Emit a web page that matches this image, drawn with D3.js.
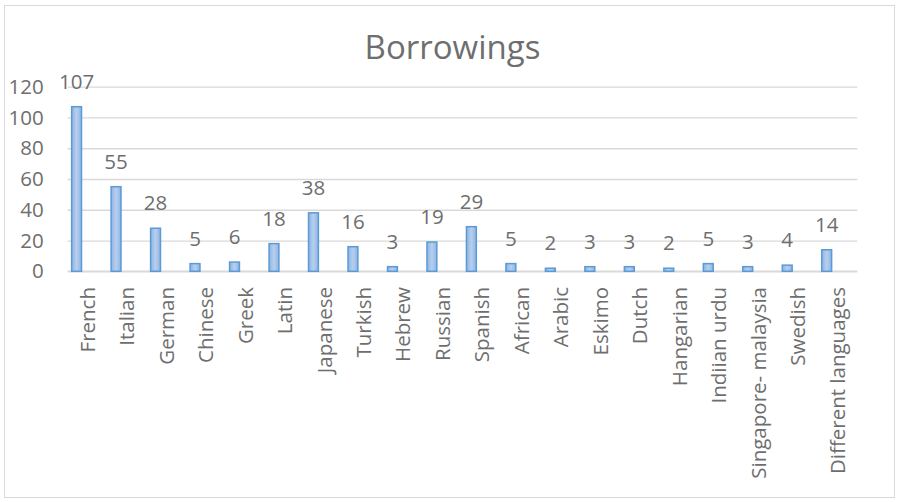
<!DOCTYPE html>
<html>
<head>
<meta charset="utf-8">
<script src="https://cdn.jsdelivr.net/npm/d3@7"></script>
<style>
  html, body { margin: 0; padding: 0; background: #fff; }
  svg { display: block; }
  text { font-family: "Open Sans", "Liberation Sans", sans-serif; fill: #6e6e6e; }
</style>
</head>
<body>
<svg id="chart" width="900" height="502"></svg>
<script>
// Data
const categories = ['French', 'Italian', 'German', 'Chinese', 'Greek', 'Latin', 'Japanese',
  'Turkish', 'Hebrew', 'Russian', 'Spanish', 'African', 'Arabic', 'Eskimo', 'Dutch',
  'Hangarian', 'Indiian urdu', 'Singapore- malaysia', 'Swedish', 'Different languages'];
const borrowings = [107, 55, 28, 5, 6, 18, 38, 16, 3, 19, 29, 5, 2, 3, 3, 2, 5, 3, 4, 14];
const yTicks = [0, 20, 40, 60, 80, 100, 120];
const chartTitle = 'Borrowings';

const svg = d3.select('#chart');
const labelSize = 20.5;
const textColor = '#6e6e6e';

// Outer chart border
svg.append('rect')
  .attr('x', 4.5).attr('y', 5.5)
  .attr('width', 890).attr('height', 492)
  .attr('fill', '#fff')
  .attr('stroke', '#d9d9d9')
  .attr('stroke-width', 1);

// Gradient for bars
const defs = svg.append('defs');
const grad = defs.append('linearGradient')
  .attr('id', 'barGrad')
  .attr('x1', '0').attr('x2', '1').attr('y1', '0').attr('y2', '0');
grad.append('stop').attr('offset', '0%').attr('stop-color', '#8fb4e3');
grad.append('stop').attr('offset', '50%').attr('stop-color', '#b7cfee');
grad.append('stop').attr('offset', '100%').attr('stop-color', '#8fb4e3');

// Scales
const xScale = d3.scaleBand()
  .domain(categories)
  .range([67.7, 857.3])
  .paddingInner(0)
  .paddingOuter(0);

const yScale = d3.scaleLinear()
  .domain([0, 120])
  .range([271.3, 86.7]);

// Gridlines
const yAxis = d3.axisLeft(yScale)
  .tickValues(yTicks)
  .tickSize(-(857.3 - 67.7))
  .tickPadding(24);

const yAxisG = svg.append('g')
  .attr('transform', 'translate(67.7, 0)')
  .call(yAxis);
yAxisG.select('.domain').remove();
yAxisG.selectAll('.tick line')
  .attr('stroke', '#d9d9d9')
  .attr('stroke-width', 1.3);
yAxisG.selectAll('.tick text')
  .attr('font-size', labelSize)
  .attr('fill', textColor)
  .style('font-family', '"Open Sans", sans-serif');

// Baseline
svg.append('line')
  .attr('x1', 67.7).attr('x2', 857.3)
  .attr('y1', yScale(0)).attr('y2', yScale(0))
  .attr('stroke', '#d9d9d9')
  .attr('stroke-width', 1.5);

// Bars (Excel places this series left of the category centre)
const barOffset = 0.1;
const barWidth = 0.25;
svg.append('g')
  .selectAll('rect')
  .data(borrowings)
  .enter()
  .append('rect')
  .attr('x', (d, i) => xScale(categories[i]) + xScale.bandwidth() * barOffset)
  .attr('y', d => yScale(d))
  .attr('width', xScale.bandwidth() * barWidth)
  .attr('height', d => yScale(0) - yScale(d))
  .attr('fill', 'url(#barGrad)')
  .attr('stroke', '#5b9bd5')
  .attr('stroke-width', 1.5);

// Data labels
svg.append('g')
  .selectAll('text')
  .data(borrowings)
  .enter()
  .append('text')
  .attr('x', (d, i) => xScale(categories[i]) + xScale.bandwidth() * (barOffset + barWidth / 2))
  .attr('y', d => yScale(d) - 18)
  .attr('text-anchor', 'middle')
  .attr('font-size', labelSize)
  .text(d => d);

// Category labels
svg.append('g')
  .selectAll('text')
  .data(categories)
  .enter()
  .append('text')
  .attr('transform', d => `translate(${xScale(d) + xScale.bandwidth() / 2}, 287) rotate(-90)`)
  .attr('dy', '0.35em')
  .attr('text-anchor', 'end')
  .attr('font-size', labelSize)
  .text(d => d);

// Title
svg.append('text')
  .attr('x', 452.5)
  .attr('y', 59)
  .attr('text-anchor', 'middle')
  .attr('font-size', 33)
  .text(chartTitle);
</script>
</body>
</html>
